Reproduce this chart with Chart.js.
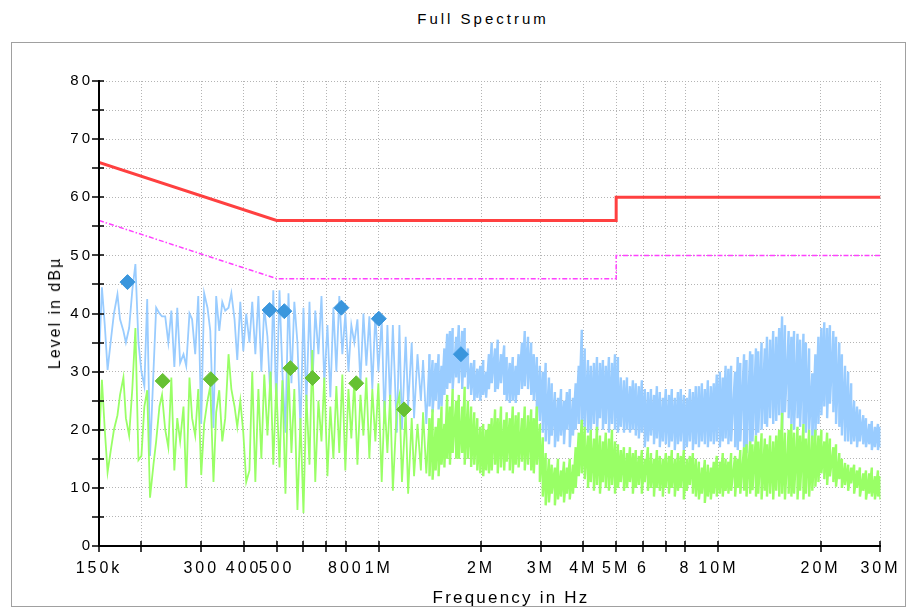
<!DOCTYPE html>
<html>
<head>
<meta charset="utf-8">
<title>Full Spectrum</title>
<script src="https://cdn.jsdelivr.net/npm/chart.js@4.4.1/dist/chart.umd.min.js"></script>
<style>
  html, body { margin: 0; padding: 0; background: #fff; overflow: hidden; }
  #wrap { position: relative; width: 909px; height: 610px; font-family: "Liberation Sans", Arial, sans-serif; color: #000; }
  #frame { position: absolute; left: 11px; top: 42px; width: 895px; height: 565px; border: 1px solid #a0a0a0; box-sizing: border-box; }
  #chart { position: absolute; left: 0; top: 0; }
  .lbl { position: absolute; white-space: nowrap; transform: translate(-50%, -50%); }
  #title { left: 483px; top: 18px; font-size: 15px; letter-spacing: 3px; }
  #xtitle { left: 511px; top: 598px; font-size: 17px; letter-spacing: 2.2px; }
  #ytitle { left: 55px; top: 313px; font-size: 16px; letter-spacing: 2px; transform: translate(-50%, -50%) rotate(-90deg); }
</style>
</head>
<body>
<div id="wrap">
  <div id="frame"></div>
  <div class="lbl" id="title">Full Spectrum</div>
  <canvas id="chart" width="909" height="610"></canvas>
  <div class="lbl" id="ytitle">Level in dBµ</div>
  <div class="lbl" id="xtitle">Frequency in Hz</div>
</div>
<script>
// sweep frequencies (kHz)
const freqKHz = [
  150, 153, 156, 159, 163, 166, 170, 173, 177, 180,
  184, 188, 192, 196, 200, 204, 208, 212, 217, 221,
  226, 230, 235, 240, 245, 250, 255, 260, 266, 271,
  277, 282, 288, 294, 300, 306, 313, 319, 326, 332,
  339, 346, 353, 361, 368, 376, 383, 391, 399, 407,
  416, 424, 433, 442, 451, 460, 470, 480, 489, 499,
  510, 520, 531, 542, 553, 564, 576, 588, 600, 612,
  625, 637, 650, 664, 678, 691, 706, 720, 735, 750,
  765, 781, 797, 814, 830, 847, 865, 883, 901, 919,
  938, 957, 977, 997, 1020, 1040, 1060, 1080, 1100, 1130,
  1150, 1170, 1200, 1220, 1250, 1270, 1300, 1330, 1350, 1380,
  1410, 1440, 1470, 1500, 1530, 1560, 1590, 1620, 1650, 1690,
  1720, 1760, 1790, 1830, 1870, 1910, 1950, 1990, 2030, 2070,
  2110, 2150, 2200, 2240, 2290, 2340, 2380, 2430, 2480, 2530,
  2580, 2640, 2690, 2750, 2810, 2860, 2920, 2980, 3040, 3100,
  3170, 3230, 3300, 3370, 3440, 3510, 3580, 3650, 3730, 3800,
  3880, 3960, 4040, 4130, 4210, 4300, 4390, 4480, 4570, 4660,
  4760, 4860, 4960, 5060, 5160, 5270, 5380, 5490, 5600, 5710,
  5830, 5950, 6070, 6200, 6330, 6460, 6590, 6720, 6860, 7000,
  7150, 7290, 7440, 7600, 7750, 7910, 8070, 8240, 8410, 8580,
  8760, 8940, 9120, 9310, 9500, 9690, 9890, 10100, 10300, 10500,
  10700, 10900, 11200, 11400, 11600, 11900, 12100, 12400, 12600, 12900,
  13100, 13400, 13700, 13900, 14200, 14500, 14800, 15100, 15400, 15700,
  16100, 16400, 16700, 17100, 17400, 17800, 18100, 18500, 18900, 19300,
  19700, 20100, 20500, 20900, 21300, 21800, 22200, 22700, 23100, 23600,
  24100, 24600, 25100, 25600, 26100, 26700, 27200, 27800, 28300, 28900,
  29500, 30000
];

// peak trace (light blue), 150 kHz .. 1.38 MHz: one value per frequency
const peakDb = [
  32, 44.5, 38, 30.3, 36, 40, 43.3, 39, 37, 35,
  37.5, 44, 48.5, 35, 30, 27.5, 42.5, 15.5, 30, 41,
  40, 39.5, 39.5, 35, 40.5, 30.8, 41, 31.5, 33, 31,
  40, 39, 33, 43, 21, 43.5, 41, 37, 20.3, 43,
  37, 42, 40.5, 41, 43.5, 39, 32, 42, 33.5, 40,
  35, 42, 33, 43, 30, 41, 36, 25, 44, 23.5,
  44, 30, 19.5, 43.5, 28, 42, 35, 20, 41, 24,
  42, 27, 40.5, 33, 43, 28, 38, 25.6, 41, 30,
  43, 33, 40, 30, 38, 35, 39, 28, 40, 31,
  39.5, 27, 40, 30, 39, 21, 38, 24, 38, 19.5,
  38, 20, 36, 24, 35, 22, 33, 25, 32, 21
];

// peak trace above 1.4 MHz is a dense band: max and min per frequency
const peakHi = [
  33, 32, 31.5, 33, 31, 34, 36.5, 37, 37.5, 36,
  38, 37, 37.5, 34, 31.5, 32, 30.5, 31, 32, 30,
  33, 35, 34, 35.5, 33, 34.5, 32.5, 31.5, 32.5, 31,
  33, 35, 37, 36, 35, 33, 32.5, 31, 30, 31.5,
  29, 28, 26.5, 25.5, 27, 25, 26.5, 27, 25.5, 28,
  31, 37.2, 34, 32, 31, 31.5, 32.5, 31.5, 32, 31,
  32.5, 31.5, 33, 32.5, 29, 28.5, 29, 27.5, 28.5, 28,
  27.5, 28.5, 27, 26.5, 27, 26, 27.5, 26.5, 25.5, 27,
  26, 27, 25.5, 26.5, 27, 26, 25.5, 27, 26.5, 27.5,
  27.5, 28, 27, 28.5, 27.5, 28, 29.5, 30, 29, 31,
  30.5, 31, 30, 32.5, 31.5, 33, 32, 33.5, 33, 34,
  33.5, 35, 34, 36, 35.5, 37, 36, 37.5, 39.5, 38,
  37, 36, 37, 36.5, 35.5, 36.5, 35, 34, 29.7, 33,
  36, 37.5, 38.5, 37.5, 38, 37, 36, 35, 33, 31,
  30, 28, 25, 24, 23.5, 22.5, 22, 21, 21.5, 20.5,
  21, 20.5
];
const peakLo = [
  24, 23, 25, 23.5, 24, 26, 27, 28, 27, 29,
  28, 27, 29, 27, 26, 25, 25.5, 25, 26, 25.5,
  27, 28, 26.5, 27, 28, 26, 25, 24.6, 25, 24.6,
  26, 27, 27.5, 27, 26, 25, 22, 21.5, 19.5, 18,
  17.5, 19, 17, 18, 19, 17.5, 20, 17, 19, 20,
  21, 20, 20.5, 19.5, 20, 21, 19.5, 22, 20, 21,
  19.5, 21, 20, 19.5, 20.5, 19.5, 20, 19.5, 20, 19,
  18.5, 19.5, 17, 18, 19, 17.5, 18.5, 17, 18, 17.5,
  17, 18, 16.5, 17.5, 18, 16.5, 17, 18, 16.5, 17.5,
  17, 18, 17.5, 17, 18, 17.5, 18, 17, 18, 18.5,
  17.5, 18, 17, 16.5, 18, 17, 16, 17.5, 18, 19,
  19.5, 20, 21, 20.5, 22, 21, 21.5, 22.5, 20, 23,
  22, 21, 20, 22, 20.5, 21, 19.5, 20, 18, 19,
  21, 22.5, 24, 22, 24.5, 23, 21, 20.5, 19, 18,
  18, 17.5, 18, 17, 18, 17.5, 17, 17.5, 16.5, 17,
  16.5, 17
];

// average trace (light green), 150 kHz .. 1.38 MHz
const avgDb = [
  17.7, 28.6, 20, 12.7, 17, 20, 22.5, 26, 29, 22,
  19, 27, 37.5, 14.8, 15.5, 24, 26.8, 8.3, 14, 18,
  24, 26, 20, 17, 29, 13, 22, 18, 24, 10,
  29, 22, 19, 27, 12.2, 21, 25, 27.5, 11, 23,
  26.8, 18, 22, 33, 27, 24, 20.5, 25, 19.5, 11,
  13, 30, 11, 27, 15, 29.5, 19, 30, 14, 28,
  13.5, 28.5, 9, 30.5, 16, 27, 6.2, 22, 5.7, 26,
  14, 33.7, 11, 25, 18, 29, 12, 24, 15, 27.5,
  16, 29.5, 13, 27, 18.5, 28.5, 14, 26, 19, 29,
  15, 27, 18, 28, 11, 25, 16, 26, 9.5, 24,
  26, 11, 23.5, 9, 22, 12, 21, 13, 23, 12.5
];

// average trace above 1.4 MHz: max and min per frequency
const avgHi = [
  22, 23.5, 20.5, 22, 24, 21, 26, 24, 27, 25,
  26, 24, 27.4, 25, 24, 23, 22, 20.5, 21, 20,
  21, 22, 23.5, 22, 24, 21.7, 23, 22, 24, 22.5,
  23, 22, 24, 22.5, 23.5, 22, 24, 21, 18.7, 16,
  15, 14, 13.5, 15, 13, 14.5, 13.5, 15, 14, 17,
  19.5, 21.7, 20.5, 19, 20, 18.5, 20.5, 19, 18, 19.5,
  18.5, 20, 18, 17.5, 16.5, 17, 16, 17, 16, 16.5,
  15.5, 16.5, 15, 17, 16, 15, 16.5, 15.5, 15, 16,
  15.5, 16.5, 15, 16, 15.5, 16.5, 15, 15.5, 16, 15,
  14.5, 13.5, 14.8, 14, 13.5, 14.5, 15.5, 14.5, 16, 15,
  14.5, 16, 15.5, 15, 16.5, 17, 17.5, 18, 17.5, 19,
  18, 19.4, 18.5, 17.5, 19, 18, 19, 20, 22.9, 19.5,
  20, 21, 19.5, 20.5, 19, 21, 18.5, 20, 19, 20,
  19, 20, 18, 19.5, 18.5, 17, 17.5, 16, 15, 14.3,
  14, 13.5, 14, 13, 13.5, 12.5, 13, 12.5, 13.5, 12,
  13, 12
];
const avgLo = [
  12, 11.4, 13, 12, 14, 13.5, 15, 14, 16, 15,
  15, 16, 14, 15, 13.6, 14, 13, 12.5, 12, 13,
  12.5, 13, 14, 12.5, 13.5, 13, 14.5, 13, 12.5, 14,
  13.5, 14.5, 13, 14, 13, 12.5, 14, 11, 8.5, 7,
  7.5, 9, 7, 8, 8.5, 7.5, 9, 8, 9, 10,
  12, 12.5, 11.5, 10, 11, 9.5, 10.5, 9, 11, 10,
  9.5, 10.5, 9, 10, 11, 9.5, 10, 11, 9, 10,
  10.5, 9, 11, 9.5, 10, 8.5, 10, 9.5, 8.5, 10,
  9, 10, 8.5, 9.5, 10, 8, 9.5, 10.5, 9, 8.5,
  8, 9, 7.4, 8.5, 8, 9, 8.5, 9, 8.5, 9.5,
  9, 9.5, 8.5, 10, 9, 9.5, 8.5, 9, 9.6, 8.5,
  9, 8, 9.5, 8.5, 9, 8, 9.5, 8.5, 9, 8,
  9, 8.5, 9, 8, 9.5, 8, 9, 8.5, 9.5, 10.2,
  11, 12.5, 11.5, 10.5, 12, 11, 10.2, 11.5, 10, 10.5,
  9.5, 10.8, 9, 10, 8.5, 9.5, 8, 9, 8.5, 8,
  8.5, 8
];

// limit lines
const limitFreq = [150e3, 500e3, 5e6, 5e6, 30e6];
const qpLimitDb = [66, 56, 56, 60, 60];
const avLimitDb = [56, 46, 46, 50, 50];

// final measurement markers
const peakMarkFreq = [182e3, 477e3, 527e3, 776e3, 1.0e6, 1.745e6];
const peakMarkDb = [45.4, 40.6, 40.4, 41.0, 39.1, 33.0];
const avgMarkFreq = [231e3, 320e3, 549e3, 638e3, 858e3, 1.187e6];
const avgMarkDb = [28.4, 28.7, 30.6, 28.9, 28.0, 23.5];

const xTickValues = [150e3, 200e3, 300e3, 400e3, 500e3, 600e3, 700e3, 800e3, 1e6, 2e6, 3e6, 4e6, 5e6, 6e6, 7e6, 8e6, 10e6, 20e6, 30e6];
const xTickLabels = ['150k', '', '300', '400', '500', '', '', '800', '1M', '2M', '3M', '4M', '5M', '6', '', '8', '10M', '20M', '30M'];

const pairs = (xs, ys) => xs.map((x, i) => ({ x: x, y: ys[i] }));

// single values first, then a vertical max/min stroke per frequency
const tracePoints = (single, hi, lo) => {
  const pts = single.map((v, i) => ({ x: freqKHz[i] * 1000, y: v }));
  hi.forEach((h, j) => {
    const x = freqKHz[single.length + j] * 1000;
    pts.push({ x: x, y: h }, { x: x, y: lo[j] });
  });
  return pts;
};

// the band part is drawn a bit heavier so it reads as a filled band
const bandStart = freqKHz[peakDb.length] * 1000;
const traceWidth = (ctx) => (ctx.p0.parsed.x >= bandStart ? 2.4 : 1.8);

// axis lines with ticks crossing them, like the original plot
const axisTicks = {
  id: 'axisTicks',
  beforeDraw(chart) {
    chart.ctx.letterSpacing = '3px';
  },
  afterDraw(chart) {
    const { ctx, chartArea: a, scales } = chart;
    ctx.save();
    ctx.strokeStyle = '#000';
    ctx.lineWidth = 2;
    ctx.beginPath();
    ctx.moveTo(a.left, a.top);
    ctx.lineTo(a.left, a.bottom);
    ctx.lineTo(a.right, a.bottom);
    ctx.stroke();
    ctx.lineWidth = 1.5;
    ctx.beginPath();
    scales.y.ticks.forEach((t) => {
      const p = Math.round(scales.y.getPixelForValue(t.value));
      ctx.moveTo(a.left - 7, p);
      ctx.lineTo(a.left + 5, p);
    });
    scales.x.ticks.forEach((t) => {
      const p = Math.round(scales.x.getPixelForValue(t.value));
      ctx.moveTo(p, a.bottom - 5);
      ctx.lineTo(p, a.bottom + 6);
    });
    ctx.stroke();
    ctx.restore();
  }
};

const fontFamily = '"Liberation Sans", Arial, sans-serif';

new Chart(document.getElementById('chart'), {
  type: 'line',
  data: {
    datasets: [
      {
        label: 'Peak markers',
        data: pairs(peakMarkFreq, peakMarkDb),
        showLine: false,
        pointStyle: 'rectRot',
        pointRadius: 7.5,
        backgroundColor: '#3a96dd',
        borderColor: '#3a96dd',
        borderWidth: 1,
        order: 0
      },
      {
        label: 'Average markers',
        data: pairs(avgMarkFreq, avgMarkDb),
        showLine: false,
        pointStyle: 'rectRot',
        pointRadius: 7.5,
        backgroundColor: '#66c133',
        borderColor: '#66c133',
        borderWidth: 1,
        order: 0
      },
      {
        label: 'QP limit',
        data: pairs(limitFreq, qpLimitDb),
        borderColor: '#ff4040',
        borderWidth: 3,
        pointRadius: 0,
        tension: 0,
        order: 1
      },
      {
        label: 'AV limit',
        data: pairs(limitFreq, avLimitDb),
        borderColor: '#ff40ff',
        borderWidth: 1.5,
        borderDash: [5, 2, 1.5, 2],
        pointRadius: 0,
        tension: 0,
        order: 1
      },
      {
        label: 'Average',
        data: tracePoints(avgDb, avgHi, avgLo),
        borderColor: '#99ff66',
        borderWidth: 1.8,
        segment: { borderWidth: traceWidth },
        pointRadius: 0,
        tension: 0,
        order: 2
      },
      {
        label: 'Peak',
        data: tracePoints(peakDb, peakHi, peakLo),
        borderColor: '#99ccff',
        borderWidth: 1.8,
        segment: { borderWidth: traceWidth },
        pointRadius: 0,
        tension: 0,
        order: 3
      }
    ]
  },
  options: {
    responsive: false,
    animation: false,
    events: [],
    layout: { padding: { left: 0, right: 26, top: 81, bottom: 0 } },
    plugins: {
      legend: { display: false },
      tooltip: { enabled: false }
    },
    scales: {
      x: {
        type: 'logarithmic',
        min: 150e3,
        max: 30e6,
        afterBuildTicks: (s) => { s.ticks = xTickValues.map((v) => ({ value: v })); },
        afterFit: (s) => { s.height = 64; },
        ticks: {
          autoSkip: false,
          maxRotation: 0,
          minRotation: 0,
          padding: 13,
          color: '#000',
          font: { family: fontFamily, size: 16 },
          callback: (v, i) => xTickLabels[i]
        },
        grid: { color: '#b4b4b4', lineWidth: 1, drawTicks: false },
        border: { display: true, color: '#000', width: 2, dash: [1, 2] }
      },
      y: {
        min: 0,
        max: 80,
        afterFit: (s) => { s.width = 99; },
        ticks: {
          stepSize: 5,
          autoSkip: false,
          padding: 6,
          color: '#000',
          font: { family: fontFamily, size: 15 },
          callback: (v) => (v % 10 === 0 ? String(v) : '')
        },
        grid: { color: '#b4b4b4', lineWidth: 1, drawTicks: false },
        border: { display: true, color: '#000', width: 2, dash: [1, 2] }
      }
    }
  },
  plugins: [axisTicks]
});
</script>
</body>
</html>
